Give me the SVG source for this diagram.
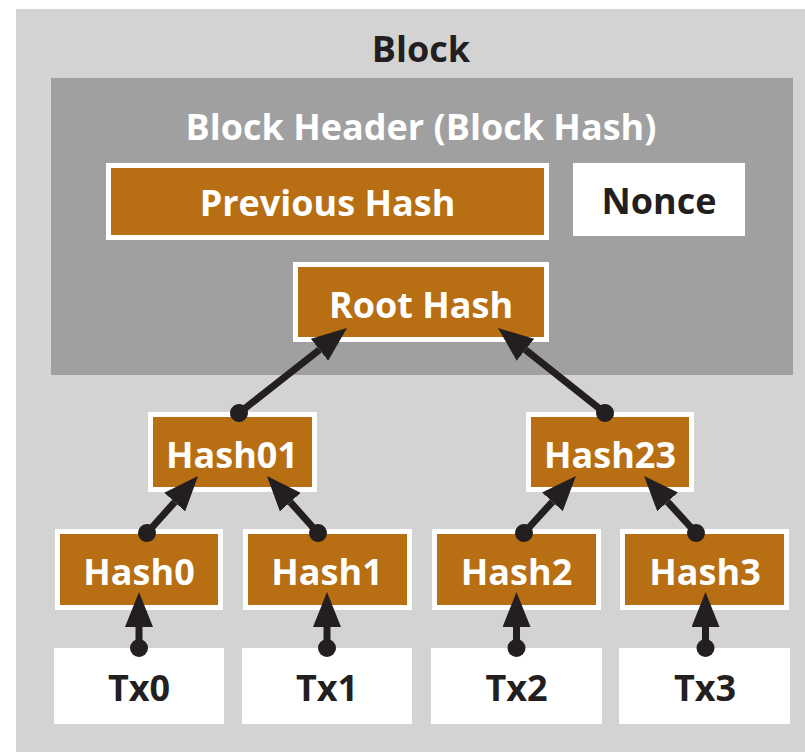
<svg xmlns="http://www.w3.org/2000/svg" width="805" height="752" viewBox="0 0 805 752">
<style>
.t{font-family:"Open Sans","Liberation Sans",sans-serif;font-weight:700;font-size:36px;text-anchor:middle}
.w{fill:#ffffff}
.d{fill:#231f20}
.h{fill:#b86e12;stroke:#ffffff;stroke-width:5}
.x{fill:#ffffff}
.c{stroke:#231f20;stroke-width:7;fill:none;marker-start:url(#dot);marker-end:url(#head)}
</style>
<defs>
<marker id="head" markerUnits="userSpaceOnUse" viewBox="0 0 35 28" markerWidth="35" markerHeight="28" refX="0" refY="14" orient="auto">
<path d="M0,0 L35,14 L0,28 z" fill="#231f20"/>
</marker>
<marker id="dot" markerUnits="userSpaceOnUse" viewBox="-10 -10 20 20" markerWidth="20" markerHeight="20" refX="0" refY="0" orient="auto">
<circle cx="0" cy="0" r="9" fill="#231f20"/>
</marker>
</defs>
<rect x="0" y="0" width="805" height="752" fill="#ffffff"/>
<g id="block">
<rect x="16" y="9" width="789" height="743" fill="#d3d3d3"/>
<text class="t d" x="421" y="62">Block</text>
</g>
<g id="header">
<rect x="51" y="78" width="742" height="297" fill="#a0a0a0"/>
<text class="t w" x="421" y="140">Block Header (Block Hash)</text>
</g>
<g id="prev">
<rect class="h" x="108.5" y="165.5" width="438" height="72"/>
<text class="t w" x="327.5" y="216">Previous Hash</text>
</g>
<g id="nonce">
<rect class="x" x="573" y="163" width="172" height="73"/>
<text class="t d" x="659" y="214">Nonce</text>
</g>
<g id="root">
<rect class="h" x="295.5" y="264.5" width="251" height="75"/>
<text class="t w" x="421" y="318">Root Hash</text>
</g>
<g id="hash01">
<rect class="h" x="150.5" y="414.5" width="164" height="75"/>
<text class="t w" x="232" y="468">Hash01</text>
</g>
<g id="hash23">
<rect class="h" x="528.5" y="414.5" width="163" height="75"/>
<text class="t w" x="610" y="468">Hash23</text>
</g>
<g id="hash0">
<rect class="h" x="57.5" y="531.5" width="163" height="76"/>
<text class="t w" x="139" y="585">Hash0</text>
</g>
<g id="hash1">
<rect class="h" x="245.5" y="531.5" width="164" height="76"/>
<text class="t w" x="327" y="585">Hash1</text>
</g>
<g id="hash2">
<rect class="h" x="434.5" y="531.5" width="164" height="76"/>
<text class="t w" x="516.5" y="585">Hash2</text>
</g>
<g id="hash3">
<rect class="h" x="622.5" y="531.5" width="164" height="76"/>
<text class="t w" x="705" y="585">Hash3</text>
</g>
<g id="tx0">
<rect class="x" x="54" y="648" width="170" height="76"/>
<text class="t d" x="139" y="701">Tx0</text>
</g>
<g id="tx1">
<rect class="x" x="242" y="648" width="170" height="76"/>
<text class="t d" x="327" y="701">Tx1</text>
</g>
<g id="tx2">
<rect class="x" x="431" y="648" width="171" height="76"/>
<text class="t d" x="516.5" y="701">Tx2</text>
</g>
<g id="tx3">
<rect class="x" x="619" y="648" width="171" height="76"/>
<text class="t d" x="705" y="701">Tx3</text>
</g>
<g id="connectors">
<path class="c" d="M239,413 L319.5,349.7"/>
<path class="c" d="M605,413 L525.4,349.8"/>
<path class="c" d="M147,533 L174.7,502.1"/>
<path class="c" d="M318,533 L290.3,502.1"/>
<path class="c" d="M524,533 L552.4,501.8"/>
<path class="c" d="M696,533 L667.6,501.8"/>
<path class="c" d="M139,648 L139,627"/>
<path class="c" d="M327,648 L327,627"/>
<path class="c" d="M516.5,648 L516.5,627"/>
<path class="c" d="M705.5,648 L705.5,627"/>
</g>
</svg>
